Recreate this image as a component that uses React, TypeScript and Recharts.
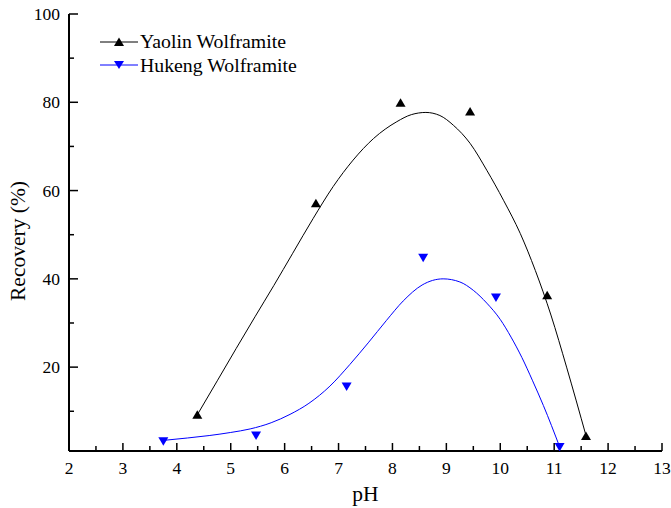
import React from "react";
import { ComposedChart, Line, Scatter, XAxis, YAxis } from "recharts";

// measured recovery at each pH
const yaolinPh = [4.38, 6.58, 8.15, 9.44, 10.87, 11.59];
const yaolinRecovery = [9.2, 57.1, 79.9, 77.9, 36.3, 4.4];
const hukengPh = [3.75, 5.47, 7.15, 8.57, 9.92, 11.1];
const hukengRecovery = [3.2, 4.5, 15.6, 44.8, 35.8, 1.9];

// fitted curves
const yaolinFitPh = [
  4.38, 4.75, 5.1, 5.45, 5.8, 6.15, 6.53, 6.9, 7.27, 7.65, 8.08, 8.35, 8.62, 8.88, 9.13, 9.44, 9.75,
  10.06, 10.37, 10.65, 10.94, 11.23, 11.59,
];
const yaolinFitRecovery = [
  9.2, 16.9, 24.2, 31.4, 38.5, 45.8, 53.7, 60.9, 66.9, 71.8, 75.6, 77.2, 77.7, 77.0, 74.8, 70.7, 64.6,
  57.8, 50.3, 41.9, 31.8, 20.0, 4.5,
];
const hukengFitPh = [
  3.75, 4.2, 4.6, 5.0, 5.36, 5.75, 6.1, 6.45, 6.84, 7.21, 7.55, 7.89, 8.2, 8.55, 8.94, 9.25, 9.5,
  9.75, 10.0, 10.2, 10.4, 10.6, 10.8, 11.1,
];
const hukengFitRecovery = [
  3.4, 3.95, 4.5, 5.2, 6.0, 7.4, 9.3, 11.8, 15.7, 20.6, 25.5, 30.6, 35.0, 38.6, 40.0, 39.3, 37.4,
  34.5, 30.8, 26.8, 22.2, 16.9, 11.3, 2.0,
];

const xTicks = [2, 2.5, 3, 3.5, 4, 4.5, 5, 5.5, 6, 6.5, 7, 7.5, 8, 8.5, 9, 9.5, 10, 10.5, 11, 11.5, 12, 12.5, 13];
const yTicks = [10, 20, 30, 40, 50, 60, 70, 80, 90, 100];

const FONT = "Liberation Serif";
const BLUE = "#0000ff";

const toPoints = (xs: number[], ys: number[]) => xs.map((ph, i) => ({ ph, rec: ys[i] }));

const yaolinData = toPoints(yaolinPh, yaolinRecovery);
const hukengData = toPoints(hukengPh, hukengRecovery);
const yaolinFit = toPoints(yaolinFitPh, yaolinFitRecovery);
const hukengFit = toPoints(hukengFitPh, hukengFitRecovery);

const isMajorX = (v: number) => Number.isInteger(v);
const isMajorY = (v: number) => v % 20 === 0;

// ticks point into the plot
const BottomTick = ({ x, y, payload }: any) => {
  const major = isMajorX(payload.value);
  return (
    <g>
      <line x1={x} y1={y} x2={x} y2={y - (major ? 8 : 5)} stroke="#000" strokeWidth={1.5} />
      {major && (
        <text x={x} y={y + 23} textAnchor="middle" fontFamily={FONT} fontSize={17.5} fill="#000">
          {payload.value}
        </text>
      )}
    </g>
  );
};

const TopTick = ({ x, y, payload }: any) => {
  const major = isMajorX(payload.value);
  return <line x1={x} y1={y} x2={x} y2={y + (major ? 8 : 5)} stroke="#000" strokeWidth={1.5} />;
};

const LeftTick = ({ x, y, payload }: any) => {
  const major = isMajorY(payload.value);
  return (
    <g>
      <line x1={x} y1={y} x2={x + (major ? 9 : 5)} y2={y} stroke="#000" strokeWidth={1.5} />
      {major && (
        <text x={x - 9} y={y + 6} textAnchor="end" fontFamily={FONT} fontSize={17.5} fill="#000">
          {payload.value}
        </text>
      )}
    </g>
  );
};

const RightTick = ({ x, y, payload }: any) => {
  const major = isMajorY(payload.value);
  return <line x1={x} y1={y} x2={x - (major ? 9 : 5)} y2={y} stroke="#000" strokeWidth={1.5} />;
};

// rotated y-axis title, baseline a little left of the tick labels
const YTitle = (props: any) => {
  const vb = props.viewBox || { x: 0, y: 14, width: 69, height: 437 };
  const tx = vb.x + 25;
  const ty = vb.y + vb.height / 2 + 8.5;
  return (
    <text
      x={tx}
      y={ty}
      transform={`rotate(-90, ${tx}, ${ty})`}
      textAnchor="middle"
      fontFamily={FONT}
      fontSize={21.5}
      fill="#000"
    >
      Recovery (%)
    </text>
  );
};

const UpTriangle = ({ cx, cy }: any) => (
  <polygon points={`${cx},${cy - 4.5} ${cx - 5},${cy + 4} ${cx + 5},${cy + 4}`} fill="#000" />
);

const DownTriangle = ({ cx, cy }: any) => (
  <polygon points={`${cx - 5},${cy - 4} ${cx + 5},${cy - 4} ${cx},${cy + 4.5}`} fill={BLUE} />
);

const LegendRow = ({ color, down, label }: { color: string; down?: boolean; label: string }) => (
  <div style={{ display: "flex", alignItems: "center", height: 23.5 }}>
    <svg width={40} height={12}>
      <line x1={0} y1={6} x2={38} y2={6} stroke={color} strokeWidth={1} />
      {down ? (
        <polygon points="14,2 24,2 19,10" fill={color} />
      ) : (
        <polygon points="19,1.5 14,10 24,10" fill={color} />
      )}
    </svg>
    <span style={{ fontFamily: FONT, fontSize: 19.8, color: "#000", whiteSpace: "nowrap" }}>{label}</span>
  </div>
);

export default function App() {
  const axisLine = { stroke: "#000", strokeWidth: 2 };
  return (
    <div
      style={{
        position: "absolute",
        left: 0,
        top: 0,
        width: 671,
        height: 508,
        background: "#fff",
        fontFamily: FONT,
      }}
    >
      <ComposedChart width={671} height={508} margin={{ top: 14, right: 9, left: 0, bottom: 0 }}>
        <XAxis
          dataKey="ph"
          type="number"
          domain={[2, 13]}
          ticks={xTicks}
          interval={0}
          allowDataOverflow
          height={57}
          tickSize={0}
          tickMargin={0}
          tickLine={false}
          axisLine={axisLine}
          tick={<BottomTick />}
          label={{
            value: "pH",
            position: "insideBottom",
            offset: 7,
            fill: "#000",
            fontFamily: FONT,
            fontSize: 21.5,
          }}
        />
        <XAxis
          xAxisId="top"
          dataKey="ph"
          type="number"
          orientation="top"
          domain={[2, 13]}
          ticks={xTicks}
          interval={0}
          allowDataOverflow
          height={0}
          tickSize={0}
          tickMargin={0}
          tickLine={false}
          axisLine={axisLine}
          tick={<TopTick />}
        />
        <YAxis
          type="number"
          domain={[1, 100]}
          ticks={yTicks}
          interval={0}
          allowDataOverflow
          width={69}
          tickSize={0}
          tickMargin={0}
          tickLine={false}
          axisLine={axisLine}
          tick={<LeftTick />}
          label={{ content: YTitle }}
        />
        <YAxis
          yAxisId="right"
          type="number"
          orientation="right"
          domain={[1, 100]}
          ticks={yTicks}
          interval={0}
          allowDataOverflow
          width={0}
          tickSize={0}
          tickMargin={0}
          tickLine={false}
          axisLine={axisLine}
          tick={<RightTick />}
        />
        <Line
          data={yaolinFit}
          dataKey="rec"
          type="monotone"
          stroke="#000"
          strokeWidth={1}
          dot={false}
          activeDot={false}
          isAnimationActive={false}
        />
        <Line
          data={hukengFit}
          dataKey="rec"
          type="monotone"
          stroke={BLUE}
          strokeWidth={1}
          dot={false}
          activeDot={false}
          isAnimationActive={false}
        />
        <Scatter data={yaolinData} dataKey="rec" shape={<UpTriangle />} isAnimationActive={false} />
        <Scatter data={hukengData} dataKey="rec" shape={<DownTriangle />} isAnimationActive={false} />
      </ComposedChart>
      <div style={{ position: "absolute", left: 100, top: 30 }}>
        <LegendRow color="#000" label="Yaolin Wolframite" />
        <LegendRow color={BLUE} down label="Hukeng Wolframite" />
      </div>
    </div>
  );
}
